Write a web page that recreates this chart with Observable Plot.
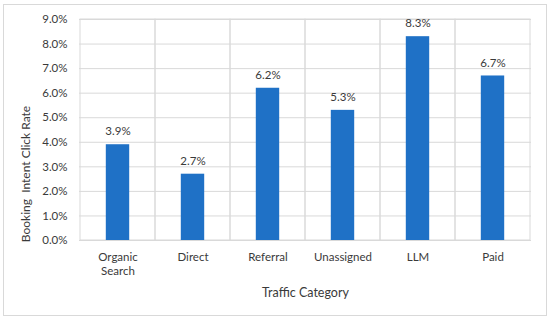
<!DOCTYPE html>
<html>
<head>
<meta charset="utf-8">
<script src="https://cdn.jsdelivr.net/npm/d3@7"></script>
<script src="https://cdn.jsdelivr.net/npm/@observablehq/plot@0.6"></script>
<style>
  html, body { margin: 0; padding: 0; background: #fff; }
  #wrap { position: relative; width: 550px; height: 322px; }
  #border { position: absolute; left: 3px; top: 4px; width: 542px; height: 310px; border: 1px solid #d9d9d9; pointer-events: none; }
  #chart { position: absolute; left: 0; top: 0; }
</style>
</head>
<body>
<div id="wrap"><div id="chart"></div><div id="border"></div></div>
<script>
const categories = ["Organic\nSearch", "Direct", "Referral", "Unassigned", "LLM", "Paid"];
const values = [3.9, 2.7, 6.2, 5.3, 8.3, 6.7];
const yTicks = [0, 1, 2, 3, 4, 5, 6, 7, 8, 9];
const xTitle = "Traffic Category";
const yTitle = "Booking  Intent Click Rate";

const data = categories.map((c, i) => ({category: c, value: values[i]}));
const font = "Lato, 'Open Sans', sans-serif";
const ink = "#3a3a3a";

const chart = Plot.plot({
  width: 550,
  height: 322,
  marginLeft: 79,
  marginRight: 19,
  marginTop: 19,
  marginBottom: 82,
  style: {fontFamily: font, fontSize: "11px", color: ink, background: "transparent"},
  x: {domain: categories, padding: 0, label: null},
  y: {domain: [0, 9], label: null},
  marks: [
    Plot.ruleY(yTicks, {stroke: "#d9d9d9", strokeWidth: 1}),
    Plot.barY(data, {x: "category", y1: 0, y2: 9, fill: "none", stroke: "#d9d9d9", strokeWidth: 1}),
    Plot.barY(data, {x: "category", y: "value", fill: "#1f71c6", insetLeft: 25.8, insetRight: 25.8}),
    Plot.text(data, {x: "category", y: "value", text: d => d.value.toFixed(1) + "%", dy: -13, lineAnchor: "middle", fill: ink, fontSize: 11.5}),
    Plot.axisY(yTicks, {tickSize: 0, tickPadding: 12, tickFormat: d => d.toFixed(1) + "%", label: null, fill: ink, fontSize: 11.5}),
    Plot.axisX({tickSize: 0, tickPadding: 11, label: null, fill: ink, lineHeight: 1.2, fontSize: 11.5}),
    Plot.text([xTitle], {frameAnchor: "bottom", dy: 52, lineAnchor: "middle", fontSize: 12.5, fill: ink})
  ]
});
d3.select(chart).append("text")
  .attr("transform", "translate(25,174) rotate(-90)")
  .attr("text-anchor", "middle")
  .attr("dominant-baseline", "central")
  .attr("font-size", 12)
  .attr("fill", ink)
  .style("white-space", "pre")
  .text(yTitle);
document.getElementById("chart").appendChild(chart);
</script>
</body>
</html>
